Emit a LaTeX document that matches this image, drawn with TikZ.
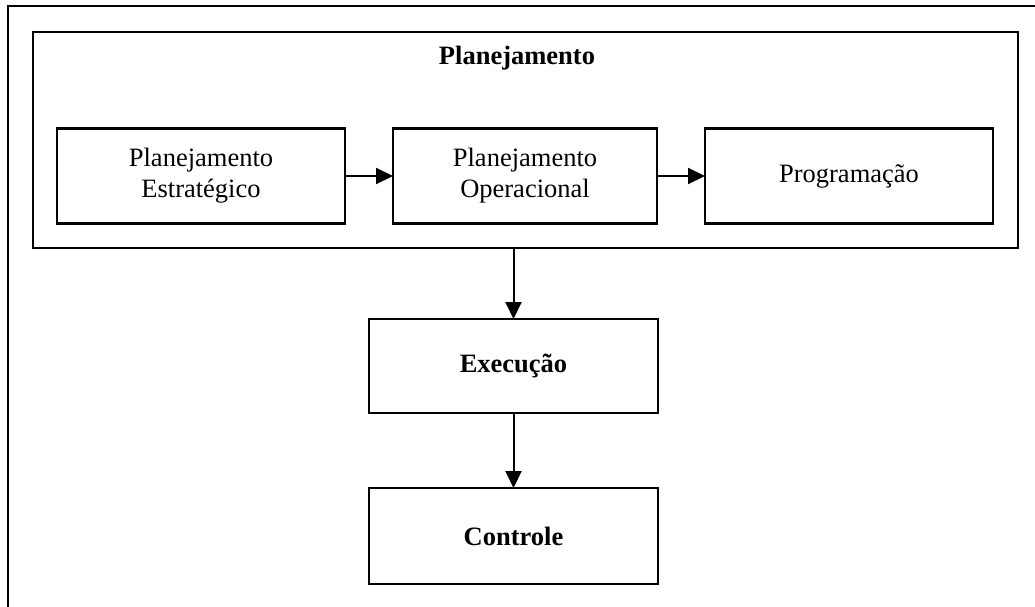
\documentclass[tikz,border=0pt]{standalone}
\usepackage{fontspec}
\setmainfont{Liberation Serif}
\usetikzlibrary{arrows.meta}
\begin{document}
\begin{tikzpicture}[x=1pt,y=-1pt,
  box/.style={draw,line width=2.6pt,inner sep=0pt,outer sep=0pt,align=center,
    font=\fontsize{26.5}{31}\selectfont},
  flow/.style={line width=2pt,-{Triangle[length=17pt,width=16pt]}}]
\useasboundingbox (0,0) rectangle (1035,606);
% outer frame (right and bottom sides fall outside the page)
\begin{scope}
  \clip (0,0) rectangle (1035,606);
  \draw[line width=2.8pt] (8,6) rectangle (1060,640);
\end{scope}
% planning group
\node[box,minimum width=985pt,minimum height=216pt] (plan) at (525.5,140) {};
\node[font=\fontsize{26.5}{31}\selectfont\bfseries] (title) at (517,58) {Planejamento};
\node[box,minimum width=288pt,minimum height=95pt] (estr) at (201,176) {Planejamento\\Estratégico};
\node[box,minimum width=264pt,minimum height=95pt] (oper) at (525,176) {Planejamento\\Operacional};
\node[box,minimum width=288pt,minimum height=95pt] (prog) at (849,176) {Programação};
% execution and control
\node[box,minimum width=289pt,minimum height=94pt,font=\fontsize{26.5}{31}\selectfont\bfseries] (exec) at (513.5,366) {Execução};
\node[box,minimum width=289pt,minimum height=96pt,font=\fontsize{26.5}{31}\selectfont\bfseries] (ctrl) at (513.5,536) {Controle};
% connectors
\draw[flow] (estr) -- (oper);
\draw[flow] (oper) -- (prog);
\draw[flow] (exec.north |- plan.south) -- (exec.north);
\draw[flow] (exec) -- (ctrl);
\end{tikzpicture}
\end{document}
